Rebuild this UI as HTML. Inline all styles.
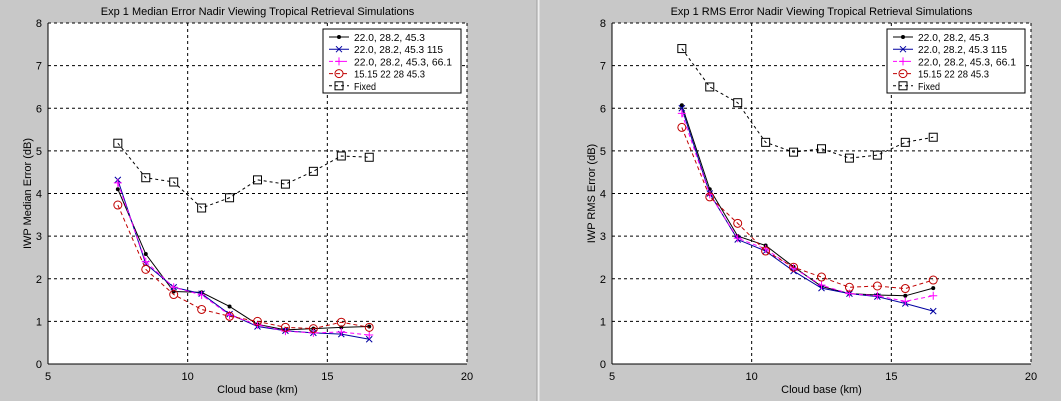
<!DOCTYPE html>
<html><head><meta charset="utf-8"><style>
html,body{margin:0;padding:0;background:#c8c8c8;}
svg{display:block;font-family:"Liberation Sans",sans-serif;}
</style></head><body>
<svg id="fig" width="1061" height="401" xmlns="http://www.w3.org/2000/svg">
<rect x="0" y="0" width="1061" height="401" fill="#c8c8c8"/>
<line x1="537" y1="0" x2="537" y2="401" stroke="#a0a0a0"/>
<line x1="538.5" y1="0" x2="538.5" y2="401" stroke="#eeeeee" stroke-width="2"/>
</svg>
<script>
const xCats=[7.5,8.5,9.5,10.5,11.5,12.5,13.5,14.5,15.5,16.5];
const xTicks=[5,10,15,20];
const yTicks=[0,1,2,3,4,5,6,7,8];
const seriesNames=["22.0, 28.2, 45.3","22.0, 28.2, 45.3 115","22.0, 28.2, 45.3, 66.1","15.15 22 28 45.3","Fixed"];
const medBlack=[4.1,2.58,1.7,1.68,1.35,0.93,0.8,0.83,0.86,0.88];
const medBlue=[4.32,2.35,1.8,1.65,1.17,0.88,0.78,0.73,0.7,0.58];
const medMagenta=[4.25,2.4,1.8,1.62,1.15,0.92,0.77,0.73,0.75,0.68];
const medRed=[3.73,2.22,1.63,1.28,1.12,1.0,0.86,0.83,0.98,0.86];
const medFixed=[5.18,4.37,4.27,3.66,3.9,4.32,4.22,4.52,4.88,4.85];
const rmsBlack=[6.07,4.1,3.0,2.78,2.28,1.82,1.65,1.62,1.6,1.78];
const rmsBlue=[6.0,4.0,2.92,2.65,2.18,1.78,1.65,1.58,1.42,1.24];
const rmsMagenta=[5.88,3.98,2.95,2.7,2.25,1.85,1.65,1.6,1.47,1.6];
const rmsRed=[5.55,3.92,3.3,2.65,2.27,2.04,1.8,1.83,1.77,1.97];
const rmsFixed=[7.4,6.5,6.13,5.2,4.97,5.05,4.83,4.9,5.2,5.32];

const NS="http://www.w3.org/2000/svg";
const svg=document.getElementById('fig');
function mk(tag,attrs,parent){const e=document.createElementNS(NS,tag);for(const k in attrs)e.setAttribute(k,attrs[k]);(parent||svg).appendChild(e);return e;}
const styles=[
 {c:"#000000",dash:"",m:"dot"},
 {c:"#0000a0",dash:"",m:"x"},
 {c:"#ff00ff",dash:"4,3",m:"plus"},
 {c:"#c00000",dash:"4,3",m:"circle"},
 {c:"#000000",dash:"3,3",m:"square"}];
function marker(g,type,x,y,c){
 let e;
 if(type==="dot"){e=mk('circle',{cx:x,cy:y,r:2,fill:c},g);}
 else if(type==="x"){e=mk('path',{d:`M${x-3},${y-3}L${x+3},${y+3}M${x-3},${y+3}L${x+3},${y-3}`,stroke:c,'stroke-width':1,fill:'none'},g);}
 else if(type==="plus"){e=mk('path',{d:`M${x-4},${y}L${x+4},${y}M${x},${y-4}L${x},${y+4}`,stroke:c,'stroke-width':1,fill:'none'},g);}
 else if(type==="circle"){e=mk('circle',{cx:x,cy:y,r:4,stroke:c,fill:'none','stroke-width':1},g);}
 else {e=mk('rect',{x:x-4,y:y-4,width:8,height:8,stroke:c,fill:'none','stroke-width':1},g);}
 
 
}
function panel(px,title,ylabel,data,prefix){
 const L=px,R=px+419,T=23,B=364;
 const xs=v=>L+(v-5)/15*(R-L);
 const ys=v=>B-v/8*(B-T);
 const g=mk('g',{});
 
 
 mk('rect',{x:L,y:T,width:R-L,height:B-T,fill:'#fff'},g);
 xTicks.forEach(t=>{const x=xs(t);
  if(t>5&&t<20){const l=mk('line',{x1:x,y1:T,x2:x,y2:B,stroke:'#000','stroke-dasharray':'3,3','stroke-width':1},g);}
  const tx=mk('text',{x:x,y:B+16,'text-anchor':'middle','font-size':11},g);tx.textContent=t;
  });
 yTicks.forEach(t=>{const y=ys(t);
  if(t>0&&t<8){const l=mk('line',{x1:L,y1:y,x2:R,y2:y,stroke:'#000','stroke-dasharray':'3,3','stroke-width':1},g);}
  if(t===8){mk('line',{x1:L,y1:y,x2:R,y2:y,stroke:'#000','stroke-dasharray':'3,3'},g);}
  const tx=mk('text',{x:L-6,y:y+4,'text-anchor':'end','font-size':11},g);tx.textContent=t;
  });
 mk('line',{x1:R,y1:T,x2:R,y2:B,stroke:'#000','stroke-dasharray':'3,3'},g);
 mk('line',{x1:L,y1:B,x2:R,y2:B,stroke:'#000'},g);
 mk('line',{x1:L,y1:T,x2:L,y2:B,stroke:'#000'},g);
 const tt=mk('text',{x:(L+R)/2,y:15,'text-anchor':'middle','font-size':11},g);tt.textContent=title;
 
 const xl=mk('text',{x:(L+R)/2,y:393,'text-anchor':'middle','font-size':11},g);xl.textContent="Cloud base (km)";
 
 const yl=mk('text',{x:0,y:0,'text-anchor':'middle','font-size':11,transform:`translate(${L-17},${(T+B)/2}) rotate(-90)`},g);yl.textContent=ylabel;
 
 data.forEach((arr,i)=>{const s=styles[i];
  const pts=arr.map((v,j)=>xs(xCats[j])+','+ys(v)).join(' ');
  const pl=mk('polyline',{points:pts,fill:'none',stroke:s.c,'stroke-width':1,'stroke-dasharray':s.dash},g);
  
  arr.forEach((v,j)=>marker(g,s.m,xs(xCats[j]),ys(v),s.c));});
 const lx=L+275,ly=29;
 const lg=mk('g',{},g);
 
 mk('rect',{x:lx,y:ly,width:138,height:64,fill:'#fff',stroke:'#000'},lg);
 seriesNames.forEach((n,i)=>{const s=styles[i];const y=ly+8+i*12.2;
  mk('line',{x1:lx+6,y1:y,x2:lx+26,y2:y,stroke:s.c,'stroke-dasharray':s.dash},lg);
  marker(lg,s.m,lx+16,y,s.c);
  const t=mk('text',{x:lx+31,y:y+4,'font-size':10.5,textLength:(n.length*4.45).toFixed(0),lengthAdjust:'spacingAndGlyphs'},lg);t.textContent=n;
  });
}
panel(48,"Exp 1 Median Error Nadir Viewing Tropical Retrieval Simulations","IWP Median Error (dB)",[medBlack,medBlue,medMagenta,medRed,medFixed],'median');
panel(612,"Exp 1 RMS Error Nadir Viewing Tropical Retrieval Simulations","IWP RMS Error (dB)",[rmsBlack,rmsBlue,rmsMagenta,rmsRed,rmsFixed],'rms');
</script>
</body></html>
